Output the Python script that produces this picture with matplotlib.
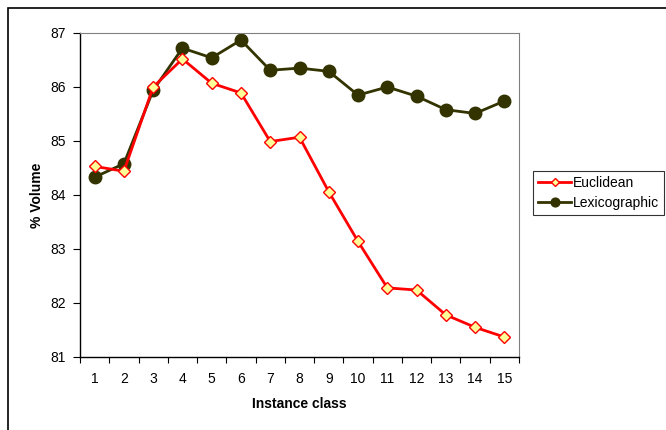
import matplotlib
matplotlib.use("Agg")
import matplotlib.pyplot as plt
from matplotlib.patches import Rectangle
import numpy as np

plt.rcParams['font.family'] = ['Liberation Sans', 'DejaVu Sans']

classes = list(range(1, 16))
euclidean = [84.53, 84.44, 86.00, 86.52, 86.07, 85.89, 84.99, 85.07, 84.06,
             83.14, 82.28, 82.24, 81.78, 81.55, 81.37]
lexicographic = [84.33, 84.58, 85.94, 86.72, 86.54, 86.87, 86.31, 86.35, 86.29,
                 85.85, 86.00, 85.83, 85.58, 85.51, 85.74]
yticks = [81, 82, 83, 84, 85, 86, 87]

fig = plt.figure(figsize=(6.66, 4.30), dpi=100)
fig.patches.append(Rectangle((8/666, -0.1), 1.0, (430-8)/430 + 0.1, transform=fig.transFigure,
                             fill=False, edgecolor='black', linewidth=1.2))

ax = fig.add_axes([80/666, (430-357)/430, (519-80)/666, (357-33)/430])
ax.plot(classes, euclidean, color='#FF0000', linewidth=2.0, marker='D', markersize=6.5,
        markerfacecolor='#FFFF99', markeredgecolor='#FF0000', markeredgewidth=1.0,
        label='Euclidean', zorder=3)
ax.plot(classes, lexicographic, color='#333300', linewidth=2.0, marker='o', markersize=9,
        markerfacecolor='#333300', markeredgecolor='#333300', label='Lexicographic', zorder=2)

ax.set_xlim(0.5, 15.5)
ax.set_ylim(81, 87)
ax.set_yticks(yticks)
ax.set_xticks(classes)
ax.set_xticks(np.arange(0.5, 16, 1), minor=True)
ax.tick_params(axis='x', which='major', length=0, labelsize=10, pad=11)
ax.tick_params(axis='x', which='minor', length=4, direction='out', width=0.8)
ax.tick_params(axis='y', length=5, direction='out', labelsize=10, width=0.8, pad=5)

for s in ['top', 'right']:
    ax.spines[s].set_color('#808080')
    ax.spines[s].set_linewidth(0.8)
for s in ['left', 'bottom']:
    ax.spines[s].set_color('black')
    ax.spines[s].set_linewidth(1.0)

ax.set_xlabel('Instance class', fontsize=10, fontweight='bold', labelpad=8)
ax.set_ylabel('% Volume', fontsize=10, fontweight='bold', labelpad=5)

handles, labels = ax.get_legend_handles_labels()
leg = fig.legend(handles, labels, loc='upper left', bbox_to_anchor=(533/666, (430-171)/430),
                 fontsize=10, frameon=True, fancybox=False, edgecolor='black',
                 handlelength=2.4, markerscale=0.7, borderpad=0.35, labelspacing=0.45,
                 handletextpad=0.15, borderaxespad=0)
leg.get_frame().set_linewidth(0.8)

fig.savefig('out.png', dpi=100)
